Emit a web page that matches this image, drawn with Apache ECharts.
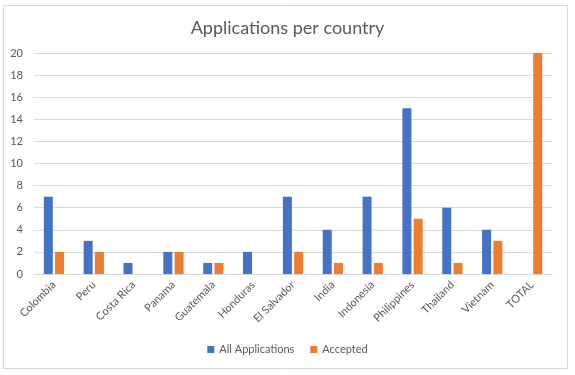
<!DOCTYPE html>
<html><head><meta charset="utf-8">
<script src="https://cdn.jsdelivr.net/npm/echarts@6/dist/echarts.min.js"></script>
<style>html,body{margin:0;padding:0;background:#fff}#c{width:575px;height:375px}</style>
</head><body><div id="c"></div>
<script>
const categories = ["Colombia","Peru","Costa Rica","Panama","Guatemala","Honduras","El Salvador","India","Indonesia","Philippines","Thailand","Vietnam","TOTAL"];
const allApplications = [7,3,1,2,1,2,7,4,7,15,6,4,null];
const accepted = [2,2,null,2,1,null,2,1,1,5,1,3,20];
const yTicks = {min:0,max:20,interval:2};
const font = "Lato, 'Open Sans', sans-serif";
const chart = echarts.init(document.getElementById('c'));
chart.setOption({
  animation:false,
  graphic:[{type:'rect',shape:{x:3.5,y:5.5,width:564,height:363},style:{fill:'none',stroke:'#d9d9d9',lineWidth:1}}],
  title:{text:'Applications per country',left:'center',top:14,textStyle:{fontFamily:font,fontSize:18,fontWeight:'normal',color:'#595959'}},
  legend:{bottom:15,left:'center',itemWidth:7,itemHeight:7,itemGap:16,icon:'rect',textStyle:{fontFamily:font,fontSize:11,color:'#595959'}},
  grid:{left:34,right:23,top:53,bottom:101},
  xAxis:{type:'category',data:categories,axisTick:{show:false},axisLine:{lineStyle:{color:'#d9d9d9'}},
    axisLabel:{rotate:45,interval:0,fontFamily:font,fontSize:11,color:'#595959',margin:9}},
  yAxis:{type:'value',min:yTicks.min,max:yTicks.max,interval:yTicks.interval,axisLine:{show:false},axisTick:{show:false},
    splitLine:{lineStyle:{color:'#d9d9d9'}},axisLabel:{fontFamily:font,fontSize:11,color:'#595959',margin:11}},
  series:[
    {name:'All Applications',type:'bar',data:allApplications,barWidth:9,barGap:'25%',itemStyle:{color:'#4472c4'}},
    {name:'Accepted',type:'bar',data:accepted,barWidth:9,itemStyle:{color:'#ed7d31'}}
  ]
});
</script></body></html>
